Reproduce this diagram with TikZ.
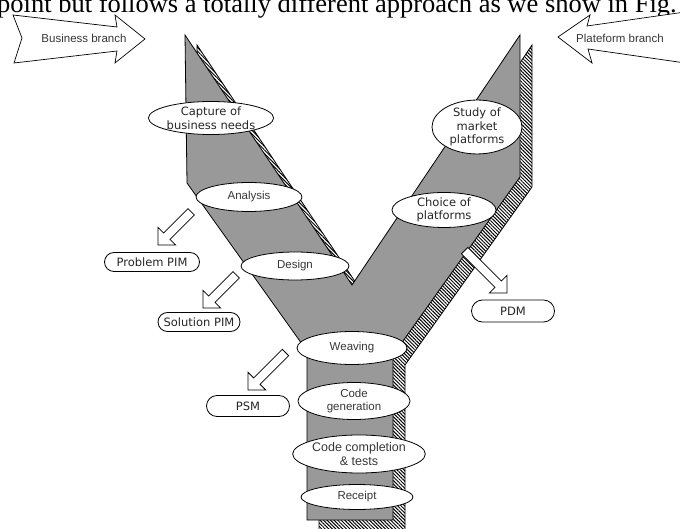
\documentclass[tikz,border=0pt]{standalone}
\usepackage{fontspec}
\setmainfont{Liberation Serif}
\newfontfamily\labelfont{Liberation Sans}
\newfontfamily\handfont{DejaVu Sans}
\usetikzlibrary{shapes.geometric,shapes.misc,patterns.meta}

\definecolor{armgray}{RGB}{153,153,153}
\definecolor{labelgray}{RGB}{55,55,55}

\begin{document}
\begin{tikzpicture}[x=1pt,y=-1pt,
  stage/.style={ellipse, draw=black, line width=0.8pt, fill=white, inner sep=0pt,
    align=center, font=\labelfont\fontsize{11.5}{13.5}\selectfont, text=labelgray},
  handstage/.style={stage, font=\handfont\fontsize{11.5}{13.5}\selectfont, text=black!85},
  product/.style={rounded rectangle, draw=black, line width=0.8pt, fill=white,
    inner sep=0pt, font=\handfont\fontsize{11.5}{13}\selectfont, text=black!85},
  branch/.style={draw=black, line width=0.7pt, fill=white, line join=miter},
  branchtext/.style={font=\labelfont\fontsize{11.5}{13.5}\selectfont, text=labelgray, inner sep=0pt},
  yshape/.style={draw=black, line width=0.8pt, line join=miter},
  pics/hollow arrow/.style={code={
    \draw[draw=black, line width=0.8pt, fill=white, line join=miter]
      (0,-4.5) -- ({#1-12.5},-4.5) -- ({#1-12.5},-12.5) -- (#1,0)
      -- ({#1-12.5},12.5) -- ({#1-12.5},4.5) -- (0,4.5) -- cycle;}}
]
\useasboundingbox (0,0) rectangle (680,529);
\clip (0,0) rectangle (680,529);
\fill[white] (0,0) rectangle (680,529);

% running text line above the figure
\node[anchor=base west, inner sep=0pt, font=\fontsize{26.5}{30}\selectfont] (caption) at (-3,12.5)
  {point but follows a totally different approach as we show in Fig.};

% hatched shadow of the Y
\path[yshape, shift={(12,10)}, pattern={Lines[angle=-45,distance=2.5pt,line width=1pt]}]
  (185,35) -- (187,183) -- (307,351) -- (307,520) -- (393,520) -- (393,355)
  -- (520,177) -- (520,35) -- (352,285) -- cycle;
% the Y itself
\path[yshape, fill=armgray]
  (185,35) -- (187,183) -- (307,351) -- (307,520) -- (393,520) -- (393,355)
  -- (520,177) -- (520,35) -- (352,285) -- cycle;

% branch arrows
\draw[branch] (13,15) -- (117,27) -- (115,15) -- (145,39) -- (115,63) -- (117,51)
  -- (14,63) -- (22,38) -- cycle;
\node[branchtext] (business) at (84,38) {Business branch};
\draw[branch] (720,7) -- (587,26) -- (590,15) -- (558,37) -- (592,63) -- (588,49)
  -- (720,68) -- (712,38) -- cycle;
\node[branchtext] (platform) at (620,38) {Plateform branch};

% stages of the business branch and the stem
\node[handstage, minimum width=98pt, minimum height=33pt] (capture) at (211,118) {Capture of\\business needs};
\node[stage, minimum width=106pt, minimum height=29pt] (analysis) at (249,197) {Analysis};
\node[stage, minimum width=108pt, minimum height=28pt] (design) at (295,266) {Design};
\node[stage, minimum width=110pt, minimum height=33pt] (weaving) at (352,348) {Weaving};
\node[stage, minimum width=112pt, minimum height=37pt] (codegen) at (354,401) {Code\\generation};
\node[stage, minimum width=122pt, minimum height=38pt, font=\labelfont\fontsize{12.5}{13.5}\selectfont] (completion) at (359,454) {Code completion\\\& tests};
\node[stage, minimum width=112pt, minimum height=25pt] (receipt) at (357,497) {Receipt};

% stages of the platform branch
\node[handstage, minimum width=90pt, minimum height=45pt] (study) at (477,127) {Study of\\market\\platforms};
\node[handstage, minimum width=104pt, minimum height=35pt] (choice) at (444,210) {Choice of\\platforms};

% produced models
\node[product, minimum width=95pt, minimum height=19pt] (pim1) at (152,262) {Problem PIM};
\node[product, minimum width=82pt, minimum height=19pt] (pim2) at (199,322) {Solution PIM};
\node[product, minimum width=83pt, minimum height=21pt] (psm) at (248,406) {PSM};
\node[product, minimum width=83pt, minimum height=22pt] (pdm) at (513,311) {PDM};

% hollow arrows from the stages to their models
\coordinate (t1) at (191.2,211.8);
\coordinate (t2) at (236.2,274.8);
\coordinate (t3) at (285.5,352.5);
\coordinate (t4) at (464.6,250.6);
\pic[rotate=225] at (t1) {hollow arrow=47};
\pic[rotate=225] at (t2) {hollow arrow=47};
\pic[rotate=225] at (t3) {hollow arrow=53};
\pic[rotate=-45] at (t4) {hollow arrow=60};
\end{tikzpicture}
\end{document}
